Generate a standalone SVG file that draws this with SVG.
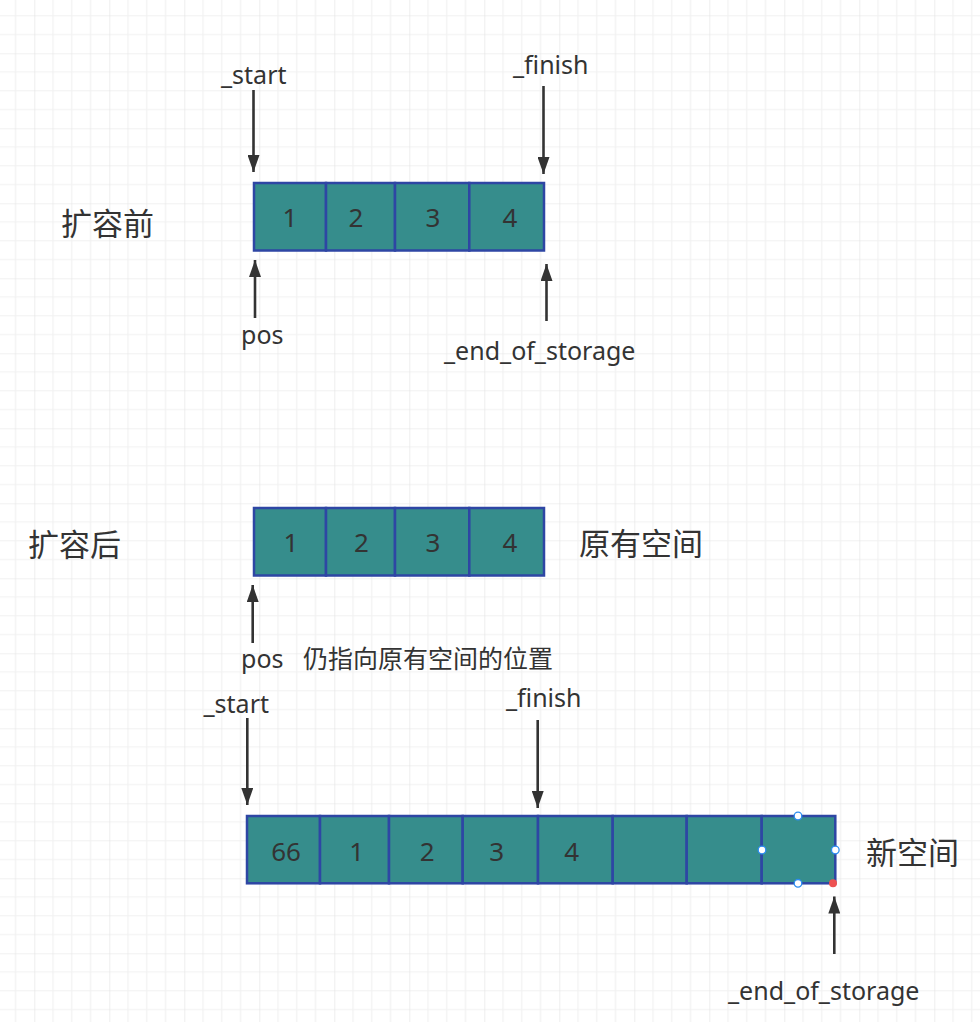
<svg xmlns="http://www.w3.org/2000/svg" width="980" height="1022" viewBox="0 0 980 1022">
<defs>
<pattern id="grid" patternUnits="userSpaceOnUse" x="34.3" y="53.3" width="75" height="75">
<path d="M18.75 0V75M37.5 0V75M56.25 0V75M0 18.75H75M0 37.5H75M0 56.25H75" stroke="#f1f1f1" stroke-width="1.2" fill="none"/>
<path d="M0 0V75M0 0H75" stroke="#e3e3e3" stroke-width="1.2" fill="none"/>
</pattern>
<marker id="ah" markerUnits="userSpaceOnUse" markerWidth="18" markerHeight="12" refX="17" refY="6" orient="auto" viewBox="0 0 18 12">
<path d="M0 0L17 6L0 12Z" fill="#333"/>
</marker>
<style>
.cell{fill:#368d8c;stroke:#2e46a4;stroke-width:2.5}
.num{font-family:"Noto Sans","Noto Sans CJK SC",sans-serif;font-size:26px;fill:#333;text-anchor:middle;dominant-baseline:central}
.lbl{font-family:"Noto Sans","Noto Sans CJK SC",sans-serif;font-size:25px;fill:#333}
.cjk{font-family:"Noto Sans CJK SC",sans-serif;font-size:31px;fill:#333}
.cjks{font-family:"Noto Sans","Noto Sans CJK SC",sans-serif;font-size:25px;fill:#333}
.arr{stroke:#333;stroke-width:2.6;fill:none;marker-end:url(#ah)}
.hd{fill:#fff;stroke:#2b8cf0;stroke-width:1.3}
</style>
</defs>
<rect width="980" height="1022" fill="#fff"/>
<rect width="980" height="1022" fill="url(#grid)"/>

<g id="title-before"><text class="cjk" x="61" y="235">扩容前</text></g>
<g id="title-after"><text class="cjk" x="28" y="556">扩容后</text></g>

<g id="array-before">
<rect class="cell" x="254" y="183" width="72" height="67.5"/>
<rect class="cell" x="326" y="183" width="69" height="67.5"/>
<rect class="cell" x="395" y="183" width="74.3" height="67.5"/>
<rect class="cell" x="469.3" y="183" width="74.7" height="67.5"/>
<text class="num" x="290" y="216.5">1</text>
<text class="num" x="356" y="216.5">2</text>
<text class="num" x="433" y="216.5">3</text>
<text class="num" x="510" y="216.5">4</text>
</g>

<g id="array-old">
<rect class="cell" x="254" y="508" width="72" height="67.5"/>
<rect class="cell" x="326" y="508" width="69" height="67.5"/>
<rect class="cell" x="395" y="508" width="74.3" height="67.5"/>
<rect class="cell" x="469.3" y="508" width="74.7" height="67.5"/>
<text class="num" x="291" y="541.5">1</text>
<text class="num" x="361.5" y="541.5">2</text>
<text class="num" x="433" y="541.5">3</text>
<text class="num" x="510" y="541.5">4</text>
</g>
<g id="label-old"><text class="cjk" x="579" y="555">原有空间</text></g>

<g id="array-new">
<rect class="cell" x="247" y="816" width="73" height="67.3"/>
<rect class="cell" x="320" y="816" width="69" height="67.3"/>
<rect class="cell" x="389" y="816" width="73.7" height="67.3"/>
<rect class="cell" x="462.7" y="816" width="75.3" height="67.3"/>
<rect class="cell" x="538" y="816" width="74.7" height="67.3"/>
<rect class="cell" x="612.7" y="816" width="74" height="67.3"/>
<rect class="cell" x="686.7" y="816" width="75" height="67.3"/>
<rect class="cell" x="761.7" y="816" width="73.6" height="67.3"/>
<text class="num" x="286" y="851">66</text>
<text class="num" x="356.7" y="851">1</text>
<text class="num" x="427.3" y="851">2</text>
<text class="num" x="496.7" y="851">3</text>
<text class="num" x="571.7" y="851">4</text>
<circle class="hd" cx="798" cy="816" r="3.8"/>
<circle class="hd" cx="762" cy="850" r="3.8"/>
<circle class="hd" cx="835.3" cy="850" r="3.8"/>
<circle class="hd" cx="798" cy="883.3" r="3.8"/>
<circle cx="833" cy="883.3" r="4" fill="#ee5252"/>
</g>
<g id="label-new"><text class="cjk" x="866" y="864">新空间</text></g>

<g id="labels">
<text class="lbl" x="221" y="84">_start</text>
<text class="lbl" x="513" y="74">_finish</text>
<text class="lbl" x="241" y="344">pos</text>
<text class="lbl" x="444" y="360">_end_of_storage</text>
<text class="lbl" x="241" y="668">pos</text>
<text class="cjks" x="303" y="668">仍指向原有空间的位置</text>
<text class="lbl" x="203.5" y="713">_start</text>
<text class="lbl" x="506" y="706.5">_finish</text>
<text class="lbl" x="728" y="1000">_end_of_storage</text>
</g>

<g id="connectors">
<line class="arr" x1="253.5" y1="90" x2="253.5" y2="172"/>
<line class="arr" x1="543.5" y1="86" x2="543.5" y2="174"/>
<line class="arr" x1="255" y1="318" x2="255" y2="260"/>
<line class="arr" x1="546.5" y1="321" x2="546.5" y2="264"/>
<line class="arr" x1="252.7" y1="643" x2="252.7" y2="585"/>
<line class="arr" x1="247.3" y1="718" x2="247.3" y2="805"/>
<line class="arr" x1="537.7" y1="720" x2="537.7" y2="808"/>
<line class="arr" x1="834.3" y1="954" x2="834.3" y2="896.5"/>
</g>
</svg>
